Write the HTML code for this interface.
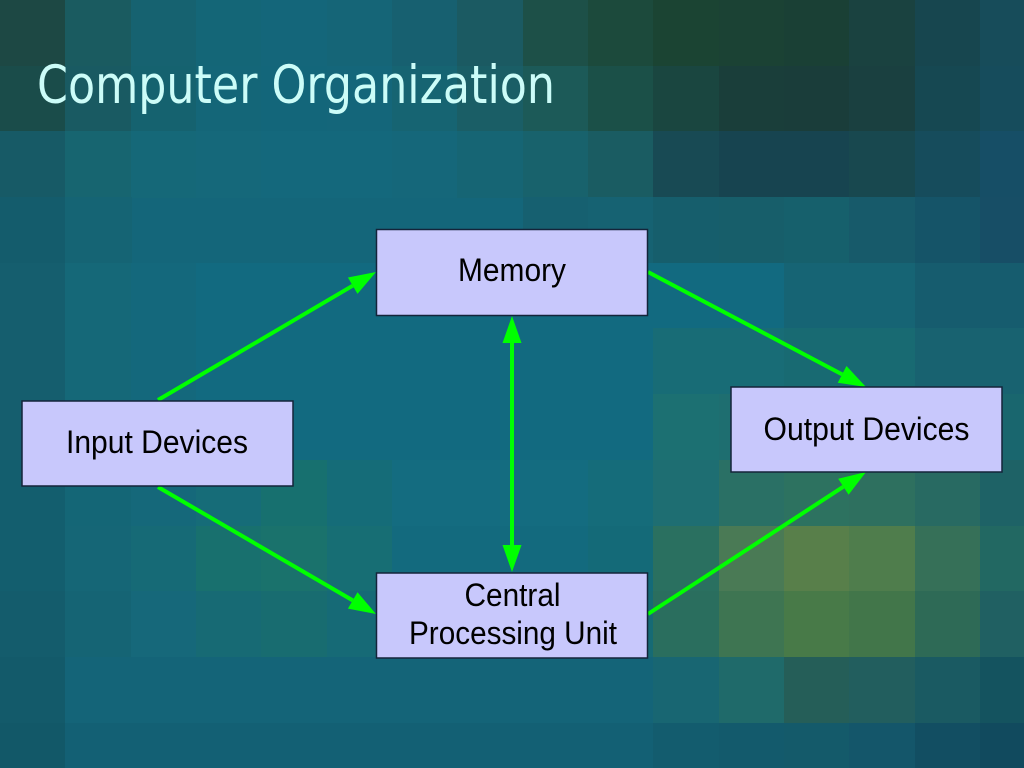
<!DOCTYPE html>
<html><head><meta charset="utf-8"><style>
html,body{margin:0;padding:0;width:1024px;height:768px;overflow:hidden;background:#14667a}
svg{display:block}
</style></head><body>
<svg width="1024" height="768" viewBox="0 0 1024 768" xmlns="http://www.w3.org/2000/svg">
<rect x="0" y="0" width="1024" height="768" fill="#14667a"/>
<!-- row 0 -->
<g>
<rect x="0" y="0" width="66" height="66" fill="#1d4844"/>
<rect x="65" y="0" width="67" height="66" fill="#1a5b60"/>
<rect x="131" y="0" width="66" height="66" fill="#166270"/>
<rect x="196" y="0" width="66" height="66" fill="#146677"/>
<rect x="261" y="0" width="67" height="66" fill="#14667a"/>
<rect x="327" y="0" width="66" height="66" fill="#156577"/>
<rect x="392" y="0" width="66" height="66" fill="#176070"/>
<rect x="457" y="0" width="67" height="66" fill="#1b5a62"/>
<rect x="523" y="0" width="66" height="66" fill="#1d5048"/>
<rect x="588" y="0" width="66" height="66" fill="#1c4a3c"/>
<rect x="653" y="0" width="67" height="66" fill="#1b4433"/>
<rect x="719" y="0" width="66" height="66" fill="#1b4234"/>
<rect x="784" y="0" width="66" height="66" fill="#1a4035"/>
<rect x="849" y="0" width="67" height="66" fill="#1a4240"/>
<rect x="915" y="0" width="66" height="66" fill="#17464f"/>
<rect x="980" y="0" width="44" height="66" fill="#174c5a"/>
</g>
<!-- row 1 -->
<g>
<rect x="0" y="66" width="66" height="66" fill="#1a4c4a"/>
<rect x="65" y="66" width="67" height="66" fill="#195a62"/>
<rect x="131" y="66" width="66" height="66" fill="#15626f"/>
<rect x="196" y="66" width="66" height="66" fill="#146678"/>
<rect x="261" y="66" width="67" height="66" fill="#13667a"/>
<rect x="327" y="66" width="66" height="66" fill="#14667a"/>
<rect x="392" y="66" width="66" height="66" fill="#166472"/>
<rect x="457" y="66" width="67" height="66" fill="#1a5e66"/>
<rect x="523" y="66" width="66" height="66" fill="#1c5a58"/>
<rect x="588" y="66" width="66" height="66" fill="#1b5048"/>
<rect x="653" y="66" width="67" height="66" fill="#1a4640"/>
<rect x="719" y="66" width="66" height="66" fill="#1a3e3a"/>
<rect x="784" y="66" width="66" height="66" fill="#1a3d3a"/>
<rect x="849" y="66" width="67" height="66" fill="#1a4040"/>
<rect x="915" y="66" width="66" height="66" fill="#164852"/>
<rect x="980" y="66" width="44" height="66" fill="#164c5c"/>
</g>
<!-- row 2 -->
<g>
<rect x="0" y="131" width="66" height="67" fill="#175a66"/>
<rect x="65" y="131" width="67" height="67" fill="#176570"/>
<rect x="131" y="131" width="66" height="67" fill="#156878"/>
<rect x="196" y="131" width="66" height="67" fill="#15687a"/>
<rect x="261" y="131" width="67" height="67" fill="#14687c"/>
<rect x="327" y="131" width="66" height="67" fill="#14687c"/>
<rect x="392" y="131" width="66" height="67" fill="#15677a"/>
<rect x="457" y="131" width="67" height="67" fill="#166574"/>
<rect x="523" y="131" width="66" height="67" fill="#18626c"/>
<rect x="588" y="131" width="66" height="67" fill="#1a5c62"/>
<rect x="653" y="131" width="67" height="67" fill="#184a54"/>
<rect x="719" y="131" width="66" height="67" fill="#174450"/>
<rect x="784" y="131" width="66" height="67" fill="#174450"/>
<rect x="849" y="131" width="67" height="67" fill="#18484f"/>
<rect x="915" y="131" width="66" height="67" fill="#164c5c"/>
<rect x="980" y="131" width="44" height="67" fill="#164e66"/>
</g>
<!-- row 3 -->
<g>
<rect x="0" y="197" width="66" height="67" fill="#145c6c"/>
<rect x="65" y="197" width="67" height="67" fill="#156474"/>
<rect x="523" y="197" width="66" height="67" fill="#166070"/>
<rect x="588" y="197" width="66" height="67" fill="#166272"/>
<rect x="653" y="197" width="67" height="67" fill="#165e6c"/>
<rect x="719" y="197" width="66" height="67" fill="#175e6a"/>
<rect x="784" y="197" width="66" height="67" fill="#16606c"/>
<rect x="849" y="197" width="67" height="67" fill="#175a6a"/>
<rect x="915" y="197" width="66" height="67" fill="#155468"/>
<rect x="980" y="197" width="44" height="67" fill="#174e66"/>
</g>
<!-- rows 4-6 -->
<g>
<rect x="0" y="263" width="66" height="197" fill="#155e6e"/>
<rect x="65" y="263" width="67" height="197" fill="#156878"/>
<rect x="131" y="263" width="66" height="197" fill="#14687c"/>
<rect x="196" y="263" width="593" height="197" fill="#126a80"/>
<rect x="784" y="263" width="240" height="66" fill="#166474"/>
<rect x="915" y="263" width="109" height="66" fill="#165c6e"/>
<rect x="653" y="328" width="132" height="67" fill="#186c76"/>
<rect x="784" y="328" width="132" height="67" fill="#186a72"/>
<rect x="915" y="328" width="109" height="67" fill="#186270"/>
<rect x="653" y="394" width="67" height="67" fill="#1c7072"/>
<rect x="719" y="394" width="197" height="67" fill="#1e6e70"/>
<rect x="915" y="394" width="109" height="67" fill="#19666e"/>
</g>
<!-- row 7 -->
<g>
<rect x="0" y="460" width="66" height="67" fill="#135e6e"/>
<rect x="65" y="460" width="67" height="67" fill="#146676"/>
<rect x="131" y="460" width="66" height="67" fill="#15687a"/>
<rect x="196" y="460" width="66" height="67" fill="#166c78"/>
<rect x="261" y="460" width="67" height="67" fill="#17706f"/>
<rect x="327" y="460" width="66" height="67" fill="#156c78"/>
<rect x="392" y="460" width="197" height="67" fill="#146c80"/>
<rect x="588" y="460" width="66" height="67" fill="#156c7a"/>
<rect x="653" y="460" width="67" height="67" fill="#1e6e72"/>
<rect x="719" y="460" width="66" height="67" fill="#2a7065"/>
<rect x="784" y="460" width="66" height="67" fill="#2d7260"/>
<rect x="849" y="460" width="67" height="67" fill="#2e705f"/>
<rect x="915" y="460" width="66" height="67" fill="#286a62"/>
<rect x="980" y="460" width="44" height="67" fill="#1e6266"/>
</g>
<!-- row 8 -->
<g>
<rect x="0" y="526" width="66" height="66" fill="#135e6e"/>
<rect x="65" y="526" width="67" height="66" fill="#156676"/>
<rect x="131" y="526" width="66" height="66" fill="#166a76"/>
<rect x="196" y="526" width="66" height="66" fill="#18706e"/>
<rect x="261" y="526" width="67" height="66" fill="#1a726c"/>
<rect x="327" y="526" width="66" height="66" fill="#176e74"/>
<rect x="392" y="526" width="197" height="66" fill="#136a7e"/>
<rect x="588" y="526" width="66" height="66" fill="#146a78"/>
<rect x="653" y="526" width="67" height="66" fill="#2a7060"/>
<rect x="719" y="526" width="66" height="66" fill="#4a7a55"/>
<rect x="784" y="526" width="66" height="66" fill="#587f4a"/>
<rect x="849" y="526" width="67" height="66" fill="#4f7d4c"/>
<rect x="915" y="526" width="66" height="66" fill="#367058"/>
<rect x="980" y="526" width="44" height="66" fill="#226862"/>
</g>
<!-- row 9 -->
<g>
<rect x="0" y="591" width="66" height="67" fill="#145c6c"/>
<rect x="65" y="591" width="67" height="67" fill="#156474"/>
<rect x="131" y="591" width="66" height="67" fill="#16687a"/>
<rect x="196" y="591" width="66" height="67" fill="#176a74"/>
<rect x="261" y="591" width="67" height="67" fill="#186c70"/>
<rect x="327" y="591" width="66" height="67" fill="#166a76"/>
<rect x="392" y="591" width="197" height="67" fill="#146a7c"/>
<rect x="588" y="591" width="66" height="67" fill="#166a74"/>
<rect x="653" y="591" width="67" height="67" fill="#2a6e5e"/>
<rect x="719" y="591" width="66" height="67" fill="#3e7552"/>
<rect x="784" y="591" width="66" height="67" fill="#487a48"/>
<rect x="849" y="591" width="67" height="67" fill="#42764a"/>
<rect x="915" y="591" width="66" height="67" fill="#2e6a56"/>
<rect x="980" y="591" width="44" height="67" fill="#206062"/>
</g>
<!-- row 10 -->
<g>
<rect x="0" y="657" width="66" height="67" fill="#135a6a"/>
<rect x="65" y="657" width="589" height="67" fill="#146478"/>
<rect x="653" y="657" width="67" height="67" fill="#186672"/>
<rect x="719" y="657" width="66" height="67" fill="#1f6a6a"/>
<rect x="784" y="657" width="66" height="67" fill="#255e58"/>
<rect x="849" y="657" width="67" height="67" fill="#225e5e"/>
<rect x="915" y="657" width="66" height="67" fill="#1a5a62"/>
<rect x="980" y="657" width="44" height="67" fill="#14535f"/>
</g>
<!-- row 11 -->
<g>
<rect x="0" y="723" width="66" height="45" fill="#125868"/>
<rect x="65" y="723" width="589" height="45" fill="#136074"/>
<rect x="653" y="723" width="67" height="45" fill="#135c6e"/>
<rect x="719" y="723" width="66" height="45" fill="#135a6c"/>
<rect x="784" y="723" width="66" height="45" fill="#145a6a"/>
<rect x="849" y="723" width="67" height="45" fill="#14566a"/>
<rect x="915" y="723" width="66" height="45" fill="#124e62"/>
<rect x="980" y="723" width="44" height="45" fill="#114a5e"/>
</g>

<!-- Title -->
<text x="37" y="103" font-family="'DejaVu Sans','Liberation Sans',sans-serif" font-size="53" fill="#ccfcf8" textLength="518" lengthAdjust="spacingAndGlyphs">Computer Organization</text>

<!-- Connectors -->
<g stroke="#00ff00" stroke-width="4" fill="none" stroke-linecap="butt">
<line x1="158" y1="400" x2="352.7" y2="285.7"/>
<line x1="648" y1="272" x2="842.1" y2="374.4"/>
<line x1="512" y1="342" x2="512" y2="546"/>
<line x1="158" y1="487" x2="352.7" y2="600.4"/>
<line x1="648" y1="614" x2="843.4" y2="486.7"/>
</g>
<g fill="#00ff00" stroke="none">
<polygon points="376,272 357.5,293.9 347.9,277.5"/>
<polygon points="866,387 837.7,382.8 846.5,366.0"/>
<polygon points="512,316 502.5,343 521.5,343"/>
<polygon points="512,572 502.5,545 521.5,545"/>
<polygon points="376,614 347.9,608.6 357.5,592.2"/>
<polygon points="866,472 848.6,494.7 838.2,478.8"/>
</g>

<!-- Boxes -->
<g fill="#c8c8fc" stroke="#14243a" stroke-width="1.5">
<rect x="376.5" y="229.5" width="271" height="86"/>
<rect x="22" y="401" width="271" height="85"/>
<rect x="731" y="387" width="271" height="85"/>
<rect x="376.5" y="573" width="271" height="85"/>
</g>

<!-- Labels -->
<g font-family="'Liberation Sans',Arial,sans-serif" font-size="32" fill="#000" text-anchor="middle">
<text x="512" y="281" textLength="108" lengthAdjust="spacingAndGlyphs">Memory</text>
<text x="157" y="453" textLength="182" lengthAdjust="spacingAndGlyphs">Input Devices</text>
<text x="866.5" y="440" textLength="206" lengthAdjust="spacingAndGlyphs">Output Devices</text>
<text x="512.5" y="606" textLength="96" lengthAdjust="spacingAndGlyphs">Central</text>
<text x="513" y="644" textLength="208" lengthAdjust="spacingAndGlyphs">Processing Unit</text>
</g>
</svg>
</body></html>
